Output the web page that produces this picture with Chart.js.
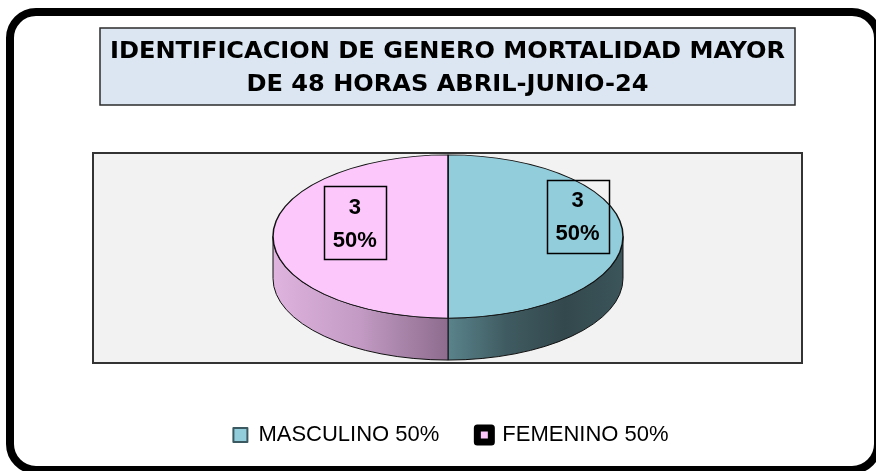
<!DOCTYPE html>
<html>
<head>
<meta charset="utf-8">
<script src="https://cdn.jsdelivr.net/npm/chart.js@4"></script>
<style>
  html, body { margin: 0; padding: 0; background: #fff; }
  #wrap { position: relative; width: 876px; height: 471px; }
  canvas { position: absolute; left: 0; top: 0; }
</style>
</head>
<body>
<div id="wrap"><canvas id="genderChart" width="876" height="471"></canvas></div>
<script>
const titleLines = ['IDENTIFICACION DE GENERO MORTALIDAD MAYOR', 'DE 48 HORAS ABRIL-JUNIO-24'];
const categories = ['MASCULINO', 'FEMENINO'];
const deaths = [3, 3];

const total = deaths.reduce((a, b) => a + b, 0);
function pct(v) {
    return Math.round(v / total * 100) + '%';
}

// frame, title box and grey plot area behind the pie
const background = {
    id: 'background',
    beforeDraw(chart) {
        const ctx = chart.ctx;
        ctx.save();
        ctx.fillStyle = '#fff';
        ctx.fillRect(0, 0, chart.width, chart.height);

        ctx.fillStyle = '#f2f2f2';
        ctx.fillRect(93, 153, 709, 210);
        ctx.strokeStyle = '#333';
        ctx.lineWidth = 2;
        ctx.strokeRect(93, 153, 709, 210);

        ctx.fillStyle = '#dce6f2';
        ctx.fillRect(100, 28, 695, 77);
        ctx.lineWidth = 1.5;
        ctx.strokeStyle = '#2b2b2b';
        ctx.strokeRect(100, 28, 695, 77);

        ctx.fillStyle = '#000';
        ctx.font = 'bold 23px "DejaVu Sans Condensed", "Liberation Sans", Arial, sans-serif';
        ctx.textAlign = 'center';
        ctx.textBaseline = 'alphabetic';
        const k = 675 / ctx.measureText(titleLines[0]).width;
        [58, 91].forEach((y, i) => {
            ctx.save();
            ctx.translate(447.5, y);
            ctx.scale(k, 1);
            ctx.fillText(titleLines[i], 0, 0);
            ctx.restore();
        });

        ctx.lineWidth = 8;
        ctx.strokeStyle = '#000';
        ctx.beginPath();
        ctx.roundRect(10, 12, 868, 458, 26);
        ctx.stroke();
        ctx.restore();
    }
};

// flattens the library's pie into an ellipse and adds the side wall
const pie3d = {
    id: 'pie3d',
    beforeDatasetsDraw(chart, args, opts) {
        const ctx = chart.ctx;
        const arcs = chart.getDatasetMeta(0).data;
        if (!arcs.length) return;
        const rx = arcs[0].outerRadius;
        const ry = rx * opts.tilt;
        const cx = opts.cx, cy = opts.cy, d = opts.depth;

        arcs.forEach((arc, i) => {
            [[0, Math.PI], [2 * Math.PI, 3 * Math.PI]].forEach(([lo, hi]) => {
                const s = Math.max(arc.startAngle, lo);
                const e = Math.min(arc.endAngle, hi);
                if (e <= s) return;
                const x0 = cx + rx * Math.cos(s);
                const x1 = cx + rx * Math.cos(e);
                const g = ctx.createLinearGradient(Math.min(x0, x1), 0, Math.max(x0, x1), 0);
                opts.sides[i].forEach((c, j, all) => g.addColorStop(j / (all.length - 1), c));
                ctx.save();
                ctx.beginPath();
                ctx.ellipse(cx, cy, rx, ry, 0, s, e, false);
                ctx.ellipse(cx, cy + d, rx, ry, 0, e, s, true);
                ctx.closePath();
                ctx.fillStyle = g;
                ctx.fill();
                ctx.lineWidth = 1;
                ctx.strokeStyle = '#111';
                ctx.stroke();
                ctx.restore();
            });
        });

        ctx.save();
        ctx.translate(cx, cy);
        ctx.scale(1, opts.tilt);
        ctx.translate(-arcs[0].x, -arcs[0].y);
    },
    afterDatasetsDraw(chart, args, opts) {
        const ctx = chart.ctx;
        const arcs = chart.getDatasetMeta(0).data;
        if (!arcs.length) return;
        ctx.restore();

        const rx = arcs[0].outerRadius;
        ctx.save();
        ctx.font = 'bold 22px "Liberation Sans", Arial, sans-serif';
        ctx.textAlign = 'center';
        ctx.textBaseline = 'middle';
        arcs.forEach((arc, i) => {
            const p = opts.labels[i];
            const a = (arc.startAngle + arc.endAngle) / 2 + p.shift * Math.PI / 180;
            const r = rx * p.frac;
            const x = opts.cx + r * Math.cos(a);
            const y = opts.cy + r * opts.tilt * Math.sin(a);
            ctx.lineWidth = 1.5;
            ctx.strokeStyle = '#000';
            ctx.strokeRect(Math.round(x - 31) + 0.5, Math.round(y - 36) + 0.5, 62, 73);
            ctx.fillStyle = '#000';
            ctx.fillText(String(deaths[i]), x, y - 15);
            ctx.fillText(pct(deaths[i]), x, y + 18);
        });
        ctx.restore();
    }
};

const legendStyle = [
    { fillStyle: '#92cddc', strokeStyle: '#3b5960', lineWidth: 2 },
    { fillStyle: '#fcc8fc', strokeStyle: '#000', lineWidth: 7 }
];

new Chart(document.getElementById('genderChart'), {
    type: 'pie',
    data: {
        labels: categories,
        datasets: [{
            data: deaths,
            backgroundColor: ['#92cddc', '#fcc8fc'],
            borderColor: '#111',
            borderWidth: 1.5,
            clip: false
        }]
    },
    options: {
        responsive: false,
        animation: false,
        events: [],
        radius: 175,
        layout: { padding: { left: 26, right: 0, top: 0, bottom: 15 } },
        plugins: {
            tooltip: { enabled: false },
            legend: {
                position: 'bottom',
                labels: {
                    boxWidth: 14,
                    boxHeight: 14,
                    padding: 38,
                    color: '#000',
                    font: { family: '"Liberation Sans", Arial, sans-serif', size: 22 },
                    generateLabels: () => categories.map((c, i) => ({
                        text: c + ' ' + pct(deaths[i]),
                        fillStyle: legendStyle[i].fillStyle,
                        strokeStyle: legendStyle[i].strokeStyle,
                        lineWidth: legendStyle[i].lineWidth,
                        lineJoin: 'round',
                        fontColor: '#000',
                        hidden: false,
                        index: i
                    }))
                }
            },
            pie3d: {
                cx: 448,
                cy: 236.5,
                tilt: 0.466,
                depth: 42,
                sides: [
                    ['#5a838b', '#3f5b61', '#33484d', '#3b555a'],
                    ['#dfb4df', '#c29ac3', '#8d6c8e']
                ],
                labels: [
                    { shift: -18.4, frac: 0.78 },
                    { shift: 17.9, frac: 0.56 }
                ]
            }
        }
    },
    plugins: [background, pie3d]
});
</script>
</body>
</html>
